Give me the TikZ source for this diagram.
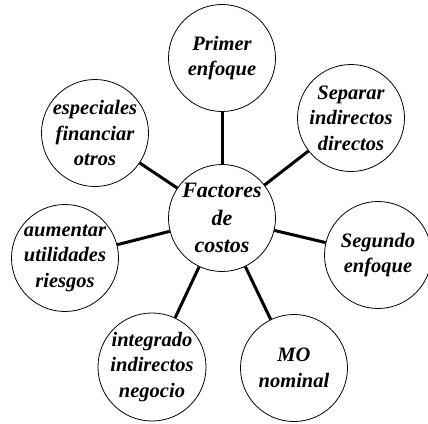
\documentclass[tikz,border=0pt]{standalone}
\usepackage{fontspec}
\setmainfont{Liberation Serif}
\usetikzlibrary{positioning}
\tikzset{
    every picture/.style={line cap=round,line join=round},
    bubble/.style={draw=black,circle,line width=0.8pt,minimum size=107pt,inner sep=0pt,
      font=\fontsize{20.5}{25.5}\selectfont\bfseries\itshape,align=center},
    hub/.style={bubble,font=\fontsize{22}{27.5}\selectfont\bfseries\itshape},
    spoke/.style={draw=black,line width=3pt,line cap=butt}
}

\begin{document}
\begin{tikzpicture}[x=1pt,y=-1pt]
  \useasboundingbox (0,0) rectangle (428,423);
  \node[hub] (costos) at (222,218) {Factores\\de\\costos};
  \node[bubble] (primer) at (222,58) {Primer\\enfoque};
  \node[bubble] (separar) at (351,118) {Separar\\indirectos\\directos};
  \node[bubble] (segundo) at (378,255) {Segundo\\enfoque};
  \node[bubble] (mo) at (294,368) {MO\\nominal};
  \node[bubble] (integrado) at (152,367) {integrado\\indirectos\\negocio};
  \node[bubble] (aumentar) at (65,258) {aumentar\\utilidades\\riesgos};
  \node[bubble] (especiales) at (95,133) {especiales\\financiar\\otros};
  % spokes from the hub
  \foreach \n in {primer,separar,segundo,mo,integrado,aumentar,especiales}
    \draw[spoke] (costos) -- (\n);
\end{tikzpicture}
\end{document}
